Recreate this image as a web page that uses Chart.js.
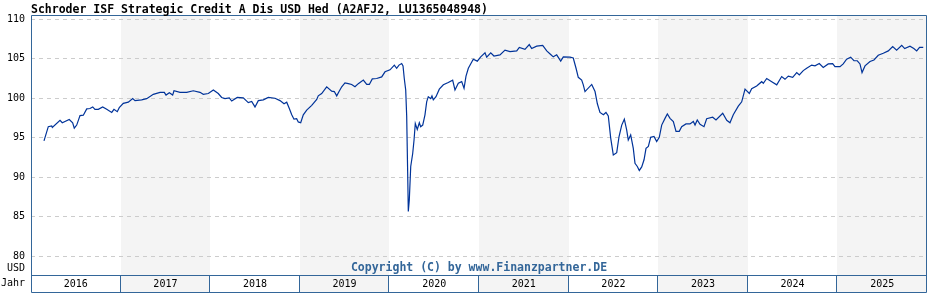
<!DOCTYPE html>
<html>
<head>
<meta charset="utf-8">
<script src="https://cdn.jsdelivr.net/npm/chart.js@4.4.1/dist/chart.umd.min.js"></script>
<style>
  html, body { margin: 0; padding: 0; background: #fff; }
  #wrap { width: 928px; height: 300px; }
</style>
</head>
<body>
<div id="wrap"><canvas id="chart" width="928" height="300"></canvas></div>
<script>
const titleText = 'Schroder ISF Strategic Credit A Dis USD Hed (A2AFJ2, LU1365048948)';
const copyrightText = 'Copyright (C) by www.Finanzpartner.DE';
const yearLabels = ['2016', '2017', '2018', '2019', '2020', '2021', '2022', '2023', '2024', '2025'];
const yTicks = [80, 85, 90, 95, 100, 105, 110];

// time as decimal years, price in USD
const years = [
  2016.145, 2016.193, 2016.231, 2016.238, 2016.324, 2016.349, 2016.427, 2016.465, 2016.483, 2016.510,
  2016.547, 2016.584, 2016.622, 2016.658, 2016.689, 2016.714, 2016.751, 2016.800, 2016.845, 2016.901,
  2016.926, 2016.963, 2016.985, 2017.030, 2017.086, 2017.135, 2017.161, 2017.235, 2017.291, 2017.365,
  2017.440, 2017.488, 2017.507, 2017.544, 2017.581, 2017.596, 2017.663, 2017.738, 2017.811, 2017.886,
  2017.923, 2017.979, 2018.035, 2018.090, 2018.128, 2018.165, 2018.213, 2018.240, 2018.302, 2018.369,
  2018.425, 2018.463, 2018.500, 2018.537, 2018.593, 2018.648, 2018.723, 2018.779, 2018.824, 2018.854,
  2018.883, 2018.910, 2018.935, 2018.965, 2018.983, 2019.010, 2019.039, 2019.077, 2019.133, 2019.189,
  2019.206, 2019.244, 2019.300, 2019.356, 2019.385, 2019.412, 2019.438, 2019.468, 2019.504, 2019.541,
  2019.579, 2019.616, 2019.653, 2019.709, 2019.747, 2019.776, 2019.809, 2019.858, 2019.914, 2019.951,
  2020.007, 2020.055, 2020.081, 2020.107, 2020.137, 2020.152, 2020.166, 2020.182, 2020.193, 2020.204,
  2020.211, 2020.222, 2020.238, 2020.260, 2020.275, 2020.289, 2020.311, 2020.334, 2020.349, 2020.372,
  2020.397, 2020.416, 2020.434, 2020.461, 2020.475, 2020.490, 2020.520, 2020.557, 2020.602, 2020.657,
  2020.706, 2020.732, 2020.769, 2020.807, 2020.833, 2020.855, 2020.881, 2020.936, 2020.981, 2021.019,
  2021.067, 2021.086, 2021.131, 2021.167, 2021.234, 2021.290, 2021.346, 2021.421, 2021.450, 2021.513,
  2021.561, 2021.588, 2021.644, 2021.711, 2021.756, 2021.800, 2021.829, 2021.867, 2021.912, 2021.941,
  2022.016, 2022.052, 2022.083, 2022.108, 2022.146, 2022.164, 2022.183, 2022.258, 2022.295, 2022.321,
  2022.350, 2022.388, 2022.417, 2022.443, 2022.470, 2022.499, 2022.537, 2022.563, 2022.593, 2022.622,
  2022.648, 2022.666, 2022.693, 2022.722, 2022.741, 2022.767, 2022.789, 2022.816, 2022.842, 2022.864,
  2022.890, 2022.916, 2022.953, 2022.983, 2023.012, 2023.039, 2023.076, 2023.102, 2023.132, 2023.169,
  2023.199, 2023.235, 2023.262, 2023.310, 2023.355, 2023.392, 2023.411, 2023.436, 2023.467, 2023.511,
  2023.541, 2023.608, 2023.645, 2023.720, 2023.765, 2023.801, 2023.838, 2023.894, 2023.932, 2023.969,
  2024.017, 2024.043, 2024.099, 2024.155, 2024.173, 2024.211, 2024.267, 2024.323, 2024.378, 2024.415,
  2024.452, 2024.501, 2024.546, 2024.575, 2024.619, 2024.657, 2024.713, 2024.750, 2024.798, 2024.842,
  2024.898, 2024.947, 2024.973, 2025.029, 2025.065, 2025.103, 2025.148, 2025.185, 2025.222, 2025.252,
  2025.275, 2025.308, 2025.364, 2025.408, 2025.456, 2025.512, 2025.568, 2025.617, 2025.661, 2025.718,
  2025.751, 2025.810, 2025.853, 2025.885, 2025.917, 2025.958
];
const prices = [
  94.6, 96.4, 96.5, 96.3, 97.2, 96.9, 97.3, 96.9, 96.2, 96.6,
  97.8, 97.85, 98.65, 98.7, 98.9, 98.6, 98.6, 98.9, 98.6, 98.2,
  98.6, 98.3, 98.8, 99.35, 99.5, 99.95, 99.7, 99.8, 99.95, 100.5,
  100.75, 100.75, 100.4, 100.7, 100.4, 100.95, 100.75, 100.75, 100.95, 100.75,
  100.5, 100.6, 101.05, 100.6, 100.1, 99.95, 100.05, 99.65, 100.1, 100.05,
  99.45, 99.6, 98.9, 99.7, 99.8, 100.1, 100.0, 99.7, 99.3, 99.5,
  98.7, 97.9, 97.35, 97.4, 97.0, 96.9, 97.9, 98.5, 99.1, 99.85,
  100.3, 100.6, 101.45, 100.9, 100.85, 100.3, 100.85, 101.45, 101.95, 101.85,
  101.75, 101.45, 101.85, 102.3, 101.75, 101.75, 102.45, 102.5, 102.7, 103.35,
  103.6, 104.2, 103.8, 104.2, 104.4, 104.1, 102.5, 101.05, 97.7, 90.5,
  85.65, 87.1, 91.35, 93.0, 94.7, 96.8, 96.05, 96.9, 96.4, 96.6,
  97.9, 99.55, 100.2, 99.95, 100.3, 99.8, 100.2, 101.15, 101.7, 102.0,
  102.3, 101.05, 101.9, 102.1, 101.25, 102.8, 103.8, 104.95, 104.7, 105.25,
  105.75, 105.2, 105.75, 105.35, 105.5, 106.1, 105.9, 106.0, 106.45, 106.2,
  106.8, 106.3, 106.6, 106.7, 106.0, 105.55, 105.25, 105.5, 104.7, 105.25,
  105.2, 105.1, 103.8, 102.65, 102.3, 101.7, 100.85, 101.75, 100.85, 99.3,
  98.2, 97.9, 98.2, 97.75, 94.95, 92.8, 93.1, 95.15, 96.6, 97.35,
  96.0, 94.7, 95.35, 93.65, 91.75, 91.35, 90.85, 91.3, 92.2, 93.65,
  93.9, 95.05, 95.15, 94.5, 95.05, 96.6, 97.45, 98.0, 97.45, 97.05,
  95.8, 95.8, 96.4, 96.75, 96.75, 97.05, 96.6, 97.25, 96.7, 96.4,
  97.4, 97.6, 97.25, 98.1, 97.2, 96.9, 97.9, 99.0, 99.55, 101.15,
  100.6, 101.2, 101.55, 102.1, 101.9, 102.5, 102.1, 101.7, 102.75, 102.4,
  102.8, 102.65, 103.25, 102.95, 103.5, 103.8, 104.2, 104.1, 104.4, 103.9,
  104.35, 104.4, 104.0, 104.0, 104.35, 104.95, 105.2, 104.75, 104.75, 104.35,
  103.25, 104.1, 104.65, 104.85, 105.45, 105.7, 106.0, 106.55, 106.1, 106.7,
  106.3, 106.6, 106.3, 106.0, 106.45, 106.45
];

const MONO = '"DejaVu Sans Mono", monospace';
const frameColor = '#336699';
const bandColor = '#f4f4f4';
const ROW_BOTTOM = 292;

/* ===== BACKGROUND BANDS ===== */
const bandsPlugin = {
  id: 'bands',
  beforeDraw(chart) {
    const ctx = chart.ctx;
    const x = chart.scales.x;
    const top = chart.chartArea.top;
    ctx.save();
    ctx.fillStyle = '#fff';
    ctx.fillRect(0, 0, chart.width, chart.height);
    ctx.fillStyle = bandColor;
    yearLabels.forEach((lab, i) => {
      if (i % 2 === 0) return;
      const y0 = +lab;
      const x0 = Math.round(x.getPixelForValue(y0));
      const x1 = Math.round(x.getPixelForValue(y0 + 1));
      ctx.fillRect(x0, top, x1 - x0, ROW_BOTTOM - top);
    });
    ctx.restore();
  }
};

/* ===== FRAME, TITLE, LABELS ===== */
const framePlugin = {
  id: 'frame',
  afterDraw(chart) {
    const ctx = chart.ctx;
    const a = chart.chartArea;
    const x = chart.scales.x;
    const L = Math.round(a.left) + 0.5;
    const R = Math.round(a.right) - 0.5;
    const T = Math.round(a.top) + 0.5;
    const B = Math.round(a.bottom) + 0.5;
    const RB = ROW_BOTTOM + 0.5;

    ctx.save();
    ctx.strokeStyle = frameColor;
    ctx.lineWidth = 1;
    ctx.beginPath();
    ctx.moveTo(L, RB); ctx.lineTo(L, T); ctx.lineTo(R, T); ctx.lineTo(R, RB);
    ctx.moveTo(L, B); ctx.lineTo(R, B);
    ctx.moveTo(L, RB); ctx.lineTo(R, RB);
    for (let i = 1; i < yearLabels.length; i++) {
      const px = Math.round(x.getPixelForValue(+yearLabels[i])) - 0.5;
      ctx.moveTo(px, B); ctx.lineTo(px, RB);
    }
    ctx.stroke();

    ctx.fillStyle = '#000';
    ctx.font = 'bold 11.5px ' + MONO;
    ctx.textAlign = 'left';
    ctx.textBaseline = 'alphabetic';
    ctx.fillText(titleText, a.left, 12.5);

    ctx.font = '10px ' + MONO;
    ctx.textAlign = 'right';
    ctx.textBaseline = 'middle';
    ctx.fillText('USD', 25, 268.5);
    ctx.fillText('Jahr', 25, 283.5);

    ctx.fillStyle = frameColor;
    ctx.font = 'bold 11.5px ' + MONO;
    ctx.textAlign = 'center';
    ctx.textBaseline = 'alphabetic';
    ctx.fillText(copyrightText, (a.left + a.right) / 2, 271);
    ctx.restore();
  }
};

new Chart(document.getElementById('chart'), {
  type: 'line',
  data: {
    datasets: [{
      data: years.map((t, i) => ({ x: t, y: prices[i] })),
      borderColor: '#003399',
      borderWidth: 1.2,
      pointRadius: 0,
      tension: 0,
      fill: false
    }]
  },
  options: {
    responsive: false,
    animation: false,
    devicePixelRatio: 1,
    layout: { padding: { top: 15, right: 1, left: 0, bottom: 0 } },
    scales: {
      x: {
        type: 'linear',
        min: 2016,
        max: 2026,
        afterBuildTicks(scale) {
          scale.ticks = yearLabels.map(l => ({ value: +l + 0.5 }));
        },
        afterFit(scale) { scale.height = 25; },
        ticks: {
          autoSkip: false,
          maxRotation: 0,
          padding: 3,
          color: '#000',
          font: { family: MONO, size: 10 },
          callback: v => String(Math.floor(v))
        },
        grid: { display: false, drawTicks: false },
        border: { display: false }
      },
      y: {
        min: 77.6,
        max: 110.55,
        afterBuildTicks(scale) {
          scale.ticks = yTicks.map(v => ({ value: v }));
        },
        afterFit(scale) { scale.width = 31; },
        ticks: {
          padding: 6,
          color: '#000',
          font: { family: MONO, size: 10 }
        },
        grid: { color: '#cccccc', lineWidth: 1, drawTicks: false },
        border: { display: false, dash: [4, 4] }
      }
    },
    plugins: {
      legend: { display: false },
      title: { display: false },
      tooltip: { enabled: false }
    }
  },
  plugins: [bandsPlugin, framePlugin]
});
</script>
</body>
</html>
